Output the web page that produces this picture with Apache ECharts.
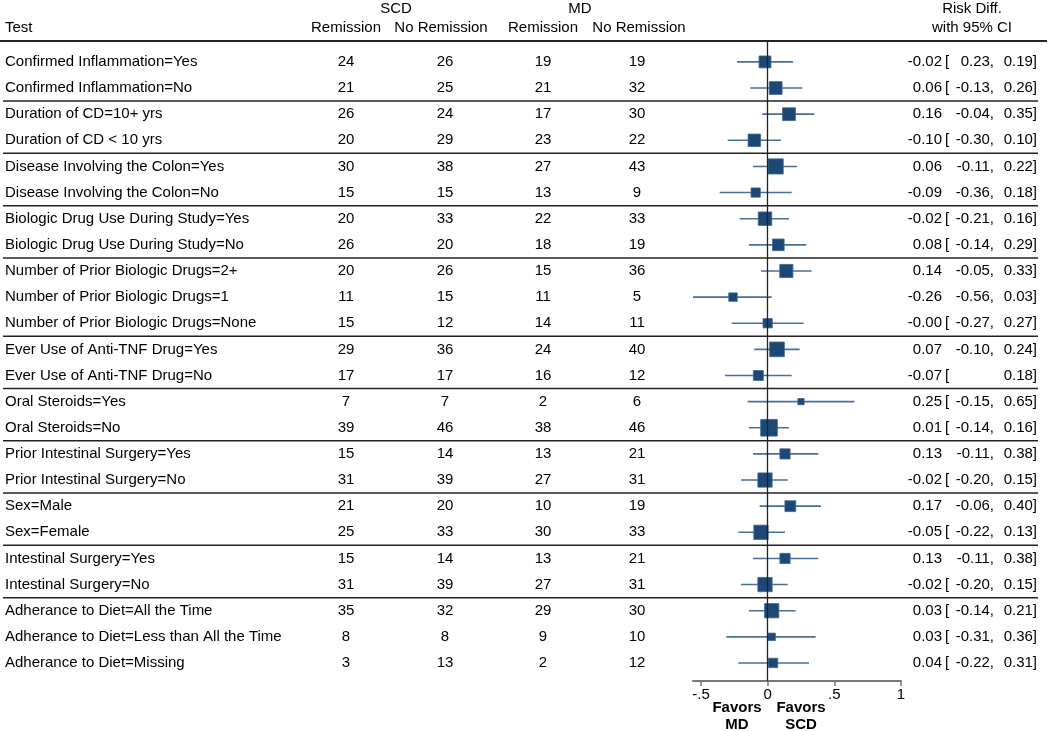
<!DOCTYPE html>
<html><head><meta charset="utf-8">
<script src="https://cdn.jsdelivr.net/npm/echarts@6/dist/echarts.min.js"></script>
<style>html,body{margin:0;padding:0;background:#fff}#c{width:1050px;height:731px}</style>
</head><body><div id="c"></div>
<script>
// ---------- data ----------
const tests = [
  'Confirmed Inflammation=Yes','Confirmed Inflammation=No',
  'Duration of CD=10+ yrs','Duration of CD < 10 yrs',
  'Disease Involving the Colon=Yes','Disease Involving the Colon=No',
  'Biologic Drug Use During Study=Yes','Biologic Drug Use During Study=No',
  'Number of Prior Biologic Drugs=2+','Number of Prior Biologic Drugs=1','Number of Prior Biologic Drugs=None',
  'Ever Use of Anti-TNF Drug=Yes','Ever Use of Anti-TNF Drug=No',
  'Oral Steroids=Yes','Oral Steroids=No',
  'Prior Intestinal Surgery=Yes','Prior Intestinal Surgery=No',
  'Sex=Male','Sex=Female',
  'Intestinal Surgery=Yes','Intestinal Surgery=No',
  'Adherance to Diet=All the Time','Adherance to Diet=Less than All the Time','Adherance to Diet=Missing'
];
const scdRemission   = [24,21,26,20,30,15,20,26,20,11,15,29,17,7,39,15,31,21,25,15,31,35,8,3];
const scdNoRemission = [26,25,24,29,38,15,33,20,26,15,12,36,17,7,46,14,39,20,33,14,39,32,8,13];
const mdRemission    = [19,21,17,23,27,13,22,18,15,11,14,24,16,2,38,13,27,10,30,13,27,29,9,2];
const mdNoRemission  = [19,32,30,22,43,9,33,19,36,5,11,40,12,6,46,21,31,19,33,21,31,30,10,12];
const riskDiff = [-0.02,0.06,0.16,-0.10,0.06,-0.09,-0.02,0.08,0.14,-0.26,-0.00,0.07,-0.07,0.25,0.01,0.13,-0.02,0.17,-0.05,0.13,-0.02,0.03,0.03,0.04];
const ciLow    = [-0.23,-0.13,-0.04,-0.30,-0.11,-0.36,-0.21,-0.14,-0.05,-0.56,-0.27,-0.10,-0.32,-0.15,-0.14,-0.11,-0.20,-0.06,-0.22,-0.11,-0.20,-0.14,-0.31,-0.22];
const ciHigh   = [0.19,0.26,0.35,0.10,0.22,0.18,0.16,0.29,0.33,0.03,0.27,0.24,0.18,0.65,0.16,0.38,0.15,0.40,0.13,0.38,0.15,0.21,0.36,0.31];
// CI text as printed in the original (some brackets / lower bounds are missing there)
const ciLowPrinted = ['0.23','-0.13','-0.04','-0.30','-0.11','-0.36','-0.21','-0.14','-0.05','-0.56','-0.27','-0.10','','-0.15','-0.14','-0.11','-0.20','-0.06','-0.22','-0.11','-0.20','-0.14','-0.31','-0.22'];
const bracketPrinted = [1,1,0,1,0,0,1,1,0,0,1,0,1,1,1,0,1,0,1,0,1,1,1,1];
const groupLastRow = [1,3,5,7,10,12,14,16,18,20];
const xTicks = [-0.5, 0, 0.5, 1];
const xTickLabels = ['-.5','0','.5','1'];

// ---------- drawing ----------
const FONT = '15px "Liberation Sans", Arial, Helvetica, sans-serif';
const BFONT = 'bold 15px "Liberation Sans", Arial, Helvetica, sans-serif';
const fmt = v => (v < 0 || Object.is(v, -0) ? '-' : '') + Math.abs(v).toFixed(2);

function txt(x, y, text, align, font) {
  return {type:'text', silent:true, style:{x:x, y:y, text:text, align:align, verticalAlign:'middle', font:font||FONT, fill:'#000'}};
}

const chart = echarts.init(document.getElementById('c'), null, {renderer:'canvas'});
chart.setOption({
  animation:false,
  backgroundColor:'#fff',
  grid:{left:693, right:149, top:41, bottom:50, containLabel:false},
  xAxis:{
    type:'value', min:-0.56, max:1,
    axisLine:{show:true, onZero:false, lineStyle:{color:'#777', width:2}},
    axisTick:{show:true, length:5, lineStyle:{color:'#777', width:1.5}, customValues:xTicks},
    axisLabel:{show:true, margin:6, color:'#000', fontSize:15, fontFamily:'"Liberation Sans", Arial, sans-serif',
      customValues:xTicks, formatter:v => xTickLabels[xTicks.indexOf(Math.round(v*100)/100)] ?? ''},
    splitLine:{show:false}
  },
  yAxis:{type:'value', inverse:true, min:-0.8, max:23.69, show:false, splitLine:{show:false}},
  graphic:[
    {type:'line', silent:true, shape:{x1:0, y1:41, x2:1047, y2:41}, style:{stroke:'#222', lineWidth:2}},
    txt(396, 9, 'SCD', 'center'),
    txt(580, 9, 'MD', 'center'),
    txt(972, 9, 'Risk Diff.', 'center'),
    txt(5, 28, 'Test', 'left'),
    txt(346, 28, 'Remission', 'center'),
    txt(441, 28, 'No Remission', 'center'),
    txt(543, 28, 'Remission', 'center'),
    txt(639, 28, 'No Remission', 'center'),
    txt(972, 28, 'with 95% CI', 'center'),
    txt(737, 708, 'Favors', 'center', BFONT),
    txt(737, 725, 'MD', 'center', BFONT),
    txt(801, 708, 'Favors', 'center', BFONT),
    txt(801, 725, 'SCD', 'center', BFONT)
  ],
  series:[
    { // table text
      type:'custom', clip:false, silent:true,
      data: tests.map((t,i)=>[0,i]),
      encode:{x:0, y:1},
      renderItem:(params, api) => {
        const i = params.dataIndex;
        const y = api.coord([0, i])[1];
        const ch = [
          txt(5, y, tests[i], 'left'),
          txt(346, y, String(scdRemission[i]), 'center'),
          txt(445, y, String(scdNoRemission[i]), 'center'),
          txt(543, y, String(mdRemission[i]), 'center'),
          txt(637, y, String(mdNoRemission[i]), 'center'),
          txt(942, y, fmt(riskDiff[i]), 'right'),
          txt(1037, y, ciHigh[i].toFixed(2) + ']', 'right')
        ];
        if (bracketPrinted[i]) ch.push(txt(945, y, '[', 'left'));
        if (ciLowPrinted[i]) ch.push(txt(994, y, ciLowPrinted[i] + ',', 'right'));
        return {type:'group', children:ch};
      }
    },
    { // group separators
      type:'custom', clip:false, silent:true,
      data: groupLastRow.map(r=>[0, r + 0.5]),
      encode:{x:0, y:1},
      renderItem:(params, api) => {
        const y = api.coord([0, api.value(1)])[1];
        return {type:'line', shape:{x1:3, y1:y, x2:1038, y2:y}, style:{stroke:'#222', lineWidth:1.5}};
      }
    },
    { // forest plot
      type:'custom', clip:false, silent:true, z:3,
      data: riskDiff.map((v,i)=>[v, ciLow[i], ciHigh[i], i]),
      encode:{x:[0,1,2], y:3},
      renderItem:(params, api) => {
        const est = api.value(0), lo = api.value(1), hi = api.value(2), r = api.value(3);
        const pE = api.coord([est, r]), pL = api.coord([lo, r]), pH = api.coord([hi, r]);
        const unit = api.coord([1, r])[0] - api.coord([0, r])[0];
        const side = 0.0375 * unit / (hi - lo);
        return {type:'group', children:[
          {type:'line', shape:{x1:pL[0], y1:pL[1], x2:pH[0], y2:pH[1]}, style:{stroke:'#4a6e96', lineWidth:1.6}},
          {type:'rect', shape:{x:pE[0]-side/2, y:pE[1]-side/2, width:side, height:side}, style:{fill:'#1c4876', stroke:'#3f6690', lineWidth:0.8}}
        ]};
      },
      markLine:{silent:true, symbol:['none','none'], label:{show:false}, z:5,
        lineStyle:{color:'#222', width:1.3, type:'solid'}, data:[{xAxis:0}]}
    }
  ]
});
</script>
</body></html>
